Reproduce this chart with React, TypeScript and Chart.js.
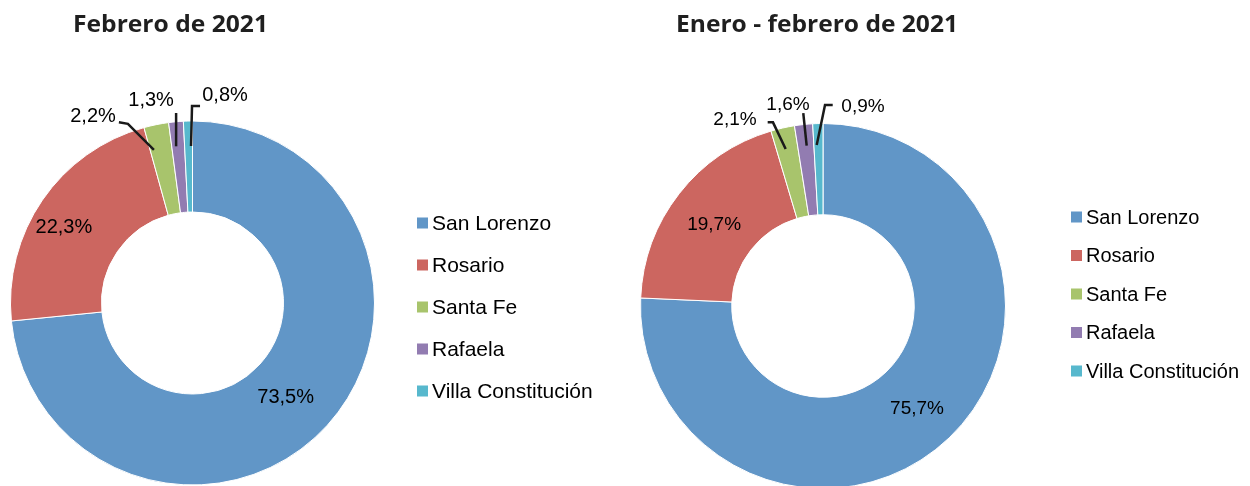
import React, { useEffect, useRef } from 'react';
import { Chart, registerables } from 'chart.js';

Chart.register(...registerables);

// ---- data ----
const categories = ['San Lorenzo', 'Rosario', 'Santa Fe', 'Rafaela', 'Villa Constitución'];
const febreroValues = [73.5, 22.3, 2.2, 1.3, 0.8];
const eneroFebreroValues = [75.7, 19.7, 2.1, 1.6, 0.9];
const chartTitles = ['Febrero de 2021', 'Enero - febrero de 2021'];
const sliceColors = ['#6196C7', '#CC6660', '#A8C46C', '#927CB1', '#57B8CD'];

const fmt = (v: number) => v.toFixed(1).replace('.', ',') + '%';

type LabelStyle = { r: number; dx: number; dy: number; path?: [number, number][] };
type PanelLayout = {
  left: number;
  title: string;
  padding: { left: number; right: number; top: number; bottom: number };
  titleX: number;
  titleY: number;
  titleWidth: number;
  titleSize: number;
  legendX: number;
  legendTextX: number;
  legendY: number;
  legendStep: number;
  legendFont: number;
  square: number;
  labelFont: number;
  labels: LabelStyle[];
};

const layoutFebrero: PanelLayout = {
  left: 0,
  title: chartTitles[0],
  padding: { left: 10, right: 250, top: 120.5, bottom: 6.5 },
  titleX: 170.5,
  titleY: 25,
  titleWidth: 195,
  titleSize: 24,
  legendX: 417,
  legendTextX: 432,
  legendY: 223,
  legendStep: 42,
  legendFont: 21,
  square: 11,
  labelFont: 20,
  labels: [
    { r: 0.75, dx: -8, dy: 2 },
    { r: 0.75, dx: -16, dy: 1 },
    { r: 0.87, dx: -67.9, dy: -32.4, path: [[-7, 2], [-33, -24], [-42, -25.5]] },
    { r: 0.87, dx: -27, dy: -46.3, path: [[-2, 1], [-2, -32.3]] },
    { r: 0.87, dx: 36.5, dy: -50.7, path: [[2.5, 1.3], [3.5, -38.7], [11.5, -38.7]] },
  ],
};

const layoutEneroFebrero: PanelLayout = {
  left: 625,
  title: chartTitles[1],
  padding: { left: 15, right: 244, top: 123, bottom: 3 },
  titleX: 192,
  titleY: 25,
  titleWidth: 282,
  titleSize: 24,
  legendX: 446,
  legendTextX: 461,
  legendY: 217,
  legendStep: 38.5,
  legendFont: 20,
  square: 11,
  labelFont: 19,
  labels: [
    { r: 0.75, dx: -0.6, dy: 3 },
    { r: 0.75, dx: -1, dy: 2 },
    { r: 0.87, dx: -52.9, dy: -32.1, path: [[-2.2, -2.1], [-14.9, -28.8], [-20.2, -28.8]] },
    { r: 0.87, dx: -18.1, dy: -44.1, path: [[0.6, -2.4], [-2.8, -35.1]] },
    { r: 0.87, dx: 44.5, dy: -41.8, path: [[-1.8, -2.3], [6.5, -42.3], [14.2, -42.3]] },
  ],
};

function makePanelPlugin(L: PanelLayout) {
  return {
    id: 'panelDecor',
    afterDraw(chart: any) {
      const ctx: CanvasRenderingContext2D = chart.ctx;
      const meta = chart.getDatasetMeta(0);
      const values = chart.data.datasets[0].data as number[];
      const colors = chart.data.datasets[0].backgroundColor as string[];
      const labels = chart.data.labels as string[];

      // title
      ctx.save();
      ctx.font = `bold ${L.titleSize}px "Open Sans", "Noto Sans", sans-serif`;
      const w = ctx.measureText(L.title).width;
      ctx.translate(L.titleX, L.titleY);
      ctx.scale(L.titleWidth / w, 1);
      ctx.textAlign = 'center';
      ctx.textBaseline = 'middle';
      ctx.fillStyle = '#1f1f1f';
      ctx.fillText(L.title, 0, 0);
      ctx.restore();

      // legend
      ctx.save();
      ctx.font = `${L.legendFont}px "Liberation Sans", Arial, sans-serif`;
      ctx.textBaseline = 'middle';
      ctx.textAlign = 'left';
      labels.forEach((lab, i) => {
        const cy = L.legendY + i * L.legendStep;
        ctx.fillStyle = colors[i];
        ctx.fillRect(L.legendX, cy - L.square / 2, L.square, L.square);
        ctx.fillStyle = '#000000';
        ctx.fillText(lab, L.legendTextX, cy + 1);
      });
      ctx.restore();

      // data labels
      ctx.save();
      ctx.font = `${L.labelFont}px "Liberation Sans", Arial, sans-serif`;
      ctx.textAlign = 'center';
      ctx.textBaseline = 'middle';
      meta.data.forEach((arc: any, i: number) => {
        const p = arc.getProps(['x', 'y', 'startAngle', 'endAngle', 'outerRadius', 'innerRadius'], true);
        const st = L.labels[i];
        const mid = (p.startAngle + p.endAngle) / 2;
        const ax = p.x + Math.cos(mid) * p.outerRadius * st.r;
        const ay = p.y + Math.sin(mid) * p.outerRadius * st.r;
        if (st.path) {
          ctx.beginPath();
          st.path.forEach(([dx, dy], k) => {
            if (k === 0) ctx.moveTo(ax + dx, ay + dy);
            else ctx.lineTo(ax + dx, ay + dy);
          });
          ctx.strokeStyle = '#1a1a1a';
          ctx.lineWidth = 2.5;
          ctx.stroke();
        }
        ctx.fillStyle = '#000000';
        ctx.fillText(fmt(values[i]), ax + st.dx, ay + st.dy + 1);
      });
      ctx.restore();
    },
  };
}

function DoughnutPanel({ values, layout }: { values: number[]; layout: PanelLayout }) {
  const ref = useRef<HTMLCanvasElement>(null);
  useEffect(() => {
    const chart = new Chart(ref.current as HTMLCanvasElement, {
      type: 'doughnut',
      data: {
        labels: categories,
        datasets: [
          {
            data: values,
            backgroundColor: sliceColors,
            borderColor: '#ffffff',
            borderWidth: 1,
          },
        ],
      },
      options: {
        responsive: false,
        maintainAspectRatio: false,
        animation: false,
        cutout: '50%',
        events: [],
        layout: { padding: layout.padding },
        plugins: {
          legend: { display: false },
          tooltip: { enabled: false },
          title: { display: false },
        },
      },
      plugins: [makePanelPlugin(layout)],
    } as any);
    return () => chart.destroy();
  }, [values, layout]);
  return (
    <canvas
      ref={ref}
      width={625}
      height={492}
      style={{ position: 'absolute', left: layout.left, top: 0, width: 625, height: 492 }}
    />
  );
}

export default function App() {
  return (
    <div
      style={{
        position: 'absolute',
        left: 0,
        top: 0,
        width: 1250,
        height: 486,
        overflow: 'hidden',
        background: '#ffffff',
      }}
    >
      <DoughnutPanel values={febreroValues} layout={layoutFebrero} />
      <DoughnutPanel values={eneroFebreroValues} layout={layoutEneroFebrero} />
    </div>
  );
}
